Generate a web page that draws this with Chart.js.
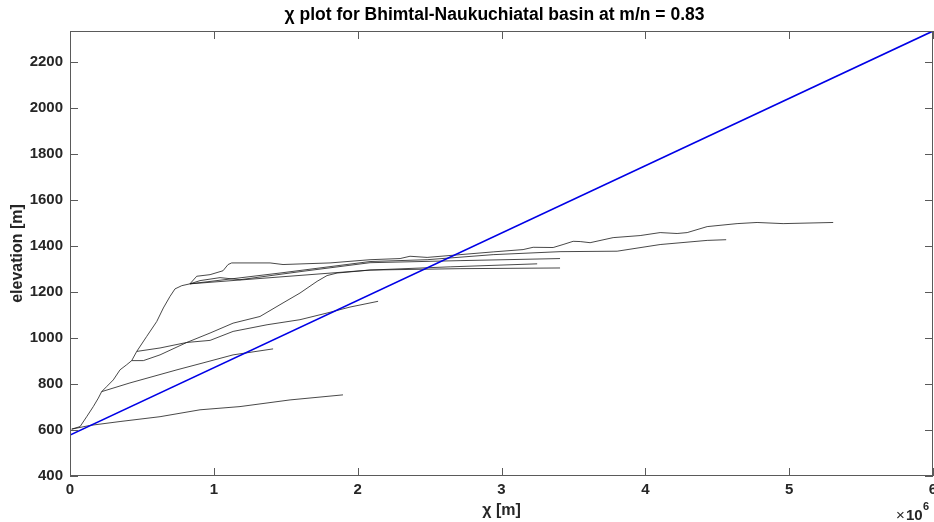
<!DOCTYPE html>
<html>
<head>
<meta charset="utf-8">
<script src="https://cdn.jsdelivr.net/npm/chart.js@4.4.1/dist/chart.umd.min.js"></script>
<style>
html,body{margin:0;padding:0;background:#fff}
#wrap{width:934px;height:522px;position:relative}
</style>
</head>
<body>
<div id="wrap"><canvas id="chart"></canvas></div>
<script>
// chi values in units of 1e6 m, elevation in m
const trunkX=[0.012,0.070,0.116,0.162,0.197,0.220,0.255,0.301,0.348,0.394,0.429,0.464,0.533,0.603,0.649,0.695,0.730,0.777,0.834];
const trunkY=[604,615,658,702,739,767,789,818,862,884,902,942,1007,1072,1131,1181,1214,1228,1236];

const aX=[0.881,0.974,1.064,1.099,1.124,1.391,1.481,1.620,1.808,1.947,2.086,2.295,2.364,2.483,2.712,2.942,3.150,3.220,3.359,3.428,3.498,3.547,3.616,3.776,3.964,4.103,4.221,4.291,4.430,4.638,4.777,4.958,5.306];
const aY=[1269,1276,1293,1320,1327,1327,1320,1323,1327,1334,1341,1346,1356,1351,1363,1375,1385,1395,1394,1407,1421,1420,1415,1437,1446,1459,1455,1459,1485,1498,1503,1498,1503];

const bX=[1.460,2.086,2.483,2.942,3.407,3.804,4.103,4.430,4.562];
const bY=[1283,1333,1341,1363,1376,1378,1407,1425,1428];

const c1X=[0.904,1.043,1.182,1.599,2.086,2.712,3.407];
const c1Y=[1250,1263,1254,1289,1328,1337,1346];

const c2X=[1.460,2.086,2.643,3.248];
const c2Y=[1266,1296,1310,1323];

const c3X=[0.510,0.626,0.812,0.974,1.134,1.321,1.481,1.599,1.718,1.787,1.857,2.086,2.712,3.407];
const c3Y=[902,927,981,1022,1065,1094,1153,1196,1247,1272,1283,1296,1302,1305];

const l1X=[0.626,0.812,0.974,1.134,1.370,1.599,1.787,1.947,2.142];
const l1Y=[957,981,990,1029,1058,1080,1109,1135,1160];

const dX=[0.417,0.744,0.925,1.134,1.412];
const dY=[805,862,892,927,953];

const eX=[0.139,0.348,0.626,0.904,1.182,1.530,1.898];
const eY=[620,637,658,688,702,731,753];

// best fit line
const fitX=[0,6];
const fitY=[578,2336];

const xTicks=[0,1,2,3,4,5,6];
const yTicks=[400,600,800,1000,1200,1400,1600,1800,2000,2200];

const titleText="\u03c7 plot for Bhimtal-Naukuchiatal basin at m/n = 0.83";

function pts(xs,ys){return xs.map((v,i)=>({x:v,y:ys[i]}));}
// branch starts where it leaves the trunk (trunk point n-1)
function branch(n,xs,ys){
 return [{x:trunkX[n-1],y:trunkY[n-1]}].concat(pts(xs,ys));
}

const black={borderColor:"#1a1a1a",borderWidth:0.8,pointRadius:0,fill:false,tension:0};
const datasets=[
 {data:pts(fitX,fitY),borderColor:"rgb(0,0,230)",borderWidth:1.6,pointRadius:0,fill:false},
 Object.assign({data:pts(trunkX,trunkY)},black),
 Object.assign({data:branch(19,aX,aY)},black),
 Object.assign({data:branch(19,bX,bY)},black),
 Object.assign({data:branch(19,c1X,c1Y)},black),
 Object.assign({data:branch(19,c2X,c2Y)},black),
 Object.assign({data:branch(11,c3X,c3Y)},black),
 Object.assign({data:branch(12,l1X,l1Y)},black),
 Object.assign({data:branch(6,dX,dY)},black),
 Object.assign({data:branch(1,eX,eY)},black)
];

const FONT='"Liberation Sans", Arial, Helvetica, sans-serif';
Chart.defaults.font.family=FONT;
Chart.defaults.color="#262626";

const frame={
 id:"frame",
 afterDatasetsDraw(ch){
  const {ctx,chartArea:a,scales:{x,y}}=ch;
  ctx.save();
  ctx.strokeStyle="#5a5a5a";
  ctx.lineWidth=1;
  ctx.strokeRect(a.left+0.5,a.top+0.5,a.right-a.left-1,a.bottom-a.top-1);
  ctx.beginPath();
  xTicks.forEach(v=>{
   const p=Math.round(x.getPixelForValue(v))+0.5;
   ctx.moveTo(p,a.bottom);ctx.lineTo(p,a.bottom-8);
   ctx.moveTo(p,a.top);ctx.lineTo(p,a.top+8);
  });
  yTicks.forEach(v=>{
   const p=Math.round(y.getPixelForValue(v))+0.5;
   ctx.moveTo(a.left,p);ctx.lineTo(a.left+8,p);
   ctx.moveTo(a.right,p);ctx.lineTo(a.right-8,p);
  });
  ctx.stroke();
  // title
  ctx.fillStyle="#000";
  ctx.textBaseline="middle";
  ctx.textAlign="center";
  ctx.font="bold 17.5px "+FONT;
  ctx.fillText(titleText,494.5,15);
  // exponent
  ctx.fillStyle="#262626";
  ctx.textAlign="left";
  ctx.font="15px "+FONT;
  ctx.fillText("\u00d7",896,516);
  ctx.font="bold 15px "+FONT;
  ctx.fillText("10",906,516);
  ctx.font="bold 11px "+FONT;
  ctx.fillText("6",923,507);
  ctx.restore();
 }
};

new Chart(document.getElementById("chart"),{
 type:"line",
 data:{datasets},
 plugins:[frame],
 options:{
  responsive:true,
  maintainAspectRatio:false,
  animation:false,
  layout:{padding:{left:0,right:1,top:31,bottom:0}},
  plugins:{
   legend:{display:false},
   tooltip:{enabled:false},
   title:{display:false}
  },
  scales:{
   x:{type:"linear",min:0,max:6,
    grid:{display:false,drawTicks:false},border:{display:false},
    ticks:{stepSize:1,includeBounds:false,padding:5,font:{size:15,weight:"bold"},maxRotation:0,
     callback:v=>String(v)},
    title:{display:true,text:"\u03c7 [m]",font:{size:16,weight:"bold"},padding:{top:0,bottom:1.4}},
    afterFit(s){s.height=46;s.paddingLeft=0;s.paddingRight=0;}
   },
   y:{type:"linear",min:400,max:2336,
    grid:{display:false,drawTicks:false},border:{display:false},
    ticks:{stepSize:200,includeBounds:false,padding:7,font:{size:15,weight:"bold"},
     callback:v=>String(v)},
    title:{display:true,text:"elevation [m]",font:{size:16,weight:"bold"},padding:{top:8.4,bottom:0}},
    afterFit(s){s.width=70;s.paddingTop=0;}
   }
  }
 }
});
</script>
</body>
</html>
